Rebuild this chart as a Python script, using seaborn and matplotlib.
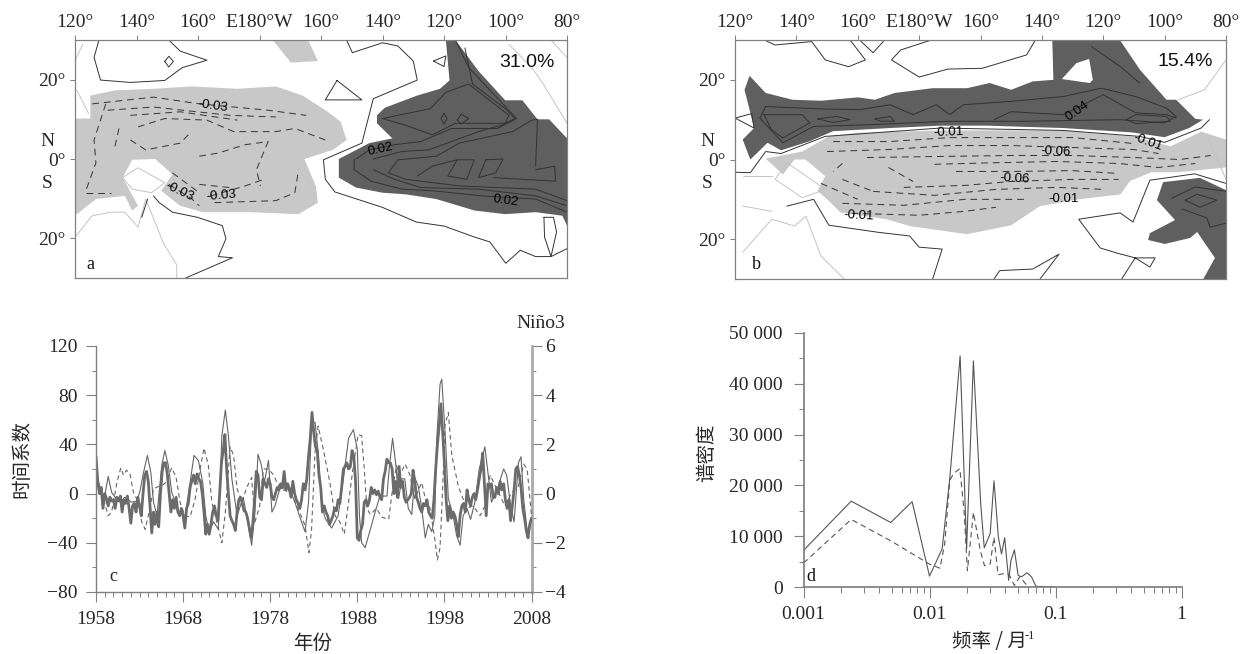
import numpy as np
import matplotlib
matplotlib.use("Agg")
import matplotlib.pyplot as plt
from matplotlib.ticker import FixedLocator, NullFormatter
import seaborn as sns

# ---------- panel a (lon east deg, lat deg) ----------
a_dark = [(240.6,30),(243.7,30),(251.2,22.2),(259.9,14.8),(265.5,14.8),(270.4,10),(274.2,10),(280,5.2),(280,-16.8),(278.5,-14.3),(269.8,-13.4),(259.9,-13.9),(250,-13),(237.5,-10.1),(227.5,-8.9),(220,-8.5),(211.4,-7.2),(205.8,-4.7),(205.8,0),(215.7,4),(223.2,5.2),(218.2,9),(218.2,11),(220.7,12.9),(231.3,16),(238.7,17.7),(241.8,19.8)]
a_light = [(120,10.2),(125,10.2),(125,16),(133,17.3),(145.5,17.7),(158,18.3),(172.8,17.7),(185.3,18.3),(194,16),(202.2,11.9),(206.4,9.4),(208.3,4.8),(203.9,2.3),(194.6,0),(198.3,-6.8),(199,-11),(192.7,-13.9),(176.6,-13.4),(161.6,-13.4),(154.2,-11.8),(148,-8),(151.7,-3.9),(146.1,0),(138.6,-0.2),(135.5,-4.7),(140.5,-11.8),(138.6,-13),(136.2,-9.3),(126.8,-10.1),(120,-14.3)]
a_light2 = [(184.3,30),(195.8,30),(199,24.7),(190.2,24.3)]
a_open = [
    [(127.8,30),(126.2,25.6),(128.3,19.9),(138,19.3),(149.2,19.8),(154.8,23),(162.9,24.9),(154.2,27.2),(150.5,30)],
    [(208.3,30),(210.2,26.8),(220,29.3),(225,28.5),(230,24.7),(231.3,19.9),(217,15.2),(213.3,4),(200.8,-0.2),(201.4,-5.1),(204.5,-8.3),(220,-12.2),(231,-15.9),(240,-16.9),(250,-19.7),(254.9,-20.9),(260.1,-26.3),(264.8,-23),(269.8,-24.6),(274.8,-24.6),(280,-22.6)],
    [(156,-30),(171.2,-24.9),(166.6,-24.6),(169.1,-20.1),(167.9,-16.8),(159.8,-14.7),(151.7,-13.4),(147.4,-11),(145.5,-9.3)],
    [(143.6,-10.1),(141.7,-14.7)],
    [(211.4,0),(215.7,2.3),(223.8,3.6),(232.5,4.4),(242.5,7.7),(257.4,7.7),(263.6,10.2),(256.1,16.4),(248,23.1),(243.7,30)],
    [(246.8,28),(249.3,18.9),(259.9,12.7),(263,10.2),(258.6,8.5),(251.2,6.9),(235,2.3),(226.3,1.9),(217,0)],
    [(220,10.2),(235.6,12.7),(240.6,16.8),(248,18.9),(261.1,11),(259.9,9),(243.7,9),(236.2,6.1),(227.5,8.5),(220,10.2)],
    [(210.8,0),(210.8,-2.7),(216.3,-5.6),(226.3,-7.6),(236.2,-8),(252.4,-9.3),(269.8,-10.1),(280,-13.4)],
    [(217,-2.7),(223.8,-5.1),(232.5,-7.2),(251.2,-7.6),(269.8,-9.3),(280,-11.8)],
    [(225,-0.2),(221.9,-3.5),(227.5,-5.1),(244.9,-6.8),(269.8,-7.6),(280,-10.5)],
    [(225,-0.2),(237.5,0.7),(244.9,4),(262.3,6.9),(268.6,9.8),(270.4,10)],
    [(231.3,-4.3),(236.2,-1.8),(244.3,-0.2)],
    [(256.1,-4.7),(276.3,-5.6),(276,-1.8),(269.8,-2.7)],
    [(270.4,10),(269.8,-1.8)],
]
a_closed = [
    [(149.2,24.6),(150.5,23.2),(152,24.6),(150.5,25.9)],
    [(205.2,19.8),(201.4,14.9),(213.3,14.9)],
    [(236.6,24.7),(240.6,26),(240,23.3)],
    [(272.5,-14.7),(275.6,-14.7),(276.6,-18.4),(274.8,-24.6),(272.7,-19.7)],
    [(244.3,-0.2),(249.9,-0.2),(247.4,-5.1),(241.2,-4.3)],
    [(253.6,-0.2),(259.2,0),(256.8,-3.5),(251.2,-4.7)],
    [(240,11.5),(239,10.2),(240,8.8),(241,10.2)],
    [(245.6,11.3),(244.3,9.8),(245.6,8.8),(248,10.2)],
]
a_dashed = [
    [(125.6,13.9),(145.5,15.6),(160.4,13.9),(182.8,12.3),(195.2,11)],
    [(130.6,12.3),(145.5,13.1),(170.4,11),(185.3,10.6)],
    [(138,11),(154.2,11.9),(172.8,9.8)],
    [(140.5,8.1),(149.2,10.2),(162.9,9.8),(171.6,6.9),(185.3,6.9),(191.5,7.7),(201.4,4.8)],
    [(138,4.8),(143,2.3),(154.2,4),(157.9,6.9)],
    [(160.4,0.7),(166.6,1.5),(175.3,3.6),(182.8,4.4),(179,-2.7),(180.3,-6.8)],
    [(130,13.9),(126.2,4.8),(126.8,-1),(123.7,-7.6)],
    [(134.3,7.7),(133,3.2)],
    [(150.5,-6.4),(157.9,-10),(160.4,-11.8)],
    [(164.1,-9.3),(175.3,-6.8),(181.5,-5.1)],
    [(160.4,-6.4),(170.3,-7.2)],
    [(165.4,-11),(185.3,-10.5),(191.5,-8.5),(192.7,-2.7)],
    [(151.7,-3.5),(160.4,-8.5)],
    [(123.7,-8.5),(131.8,-8.5)],
]
a_coast = [
    [(120,-19.7),(125.6,-14.3),(131.8,-13.4),(136.2,-13.4),(140.5,-17.2),(143,-10.1),(148.8,-21.3),(153.1,-26.7),(153.1,-30)],
    [(135.5,-4.7),(140.5,-2.2),(149.2,-6),(144.9,-8.5),(138.6,-7.6),(135.5,-4.7)],
    [(261.1,28.9),(268.6,23),(272.3,18.9),(280,9)],
    [(274.8,30),(280,25.6)],
    [(120,24.7),(122.5,28.9)],
    [(120.6,17.3),(124.4,11.5)],
]
a_labels = [("-0.03",164.7,13.3,-8),("-0.03",153.9,-8.3,-25),("-0.03",167.6,-9.3,5),("0.02",219.4,2.3,12),("0.02",260,-10.5,-8)]

# ---------- panel b ----------
b_dark = [(124.75,21),(130,16.7),(138.75,15),(148,14.75),(160,15.6),(165.6,15),(172,16.7),(184.4,17.9),(195.6,17.9),(203,19.2),(210,17.5),(217,19.6),(223.75,20),(223.4,30),(245.4,30),(252,22.5),(260.6,15),(263.75,15),(270,10.2),(272.5,10),(268,7.9),(260,5.6),(249.4,6.8),(226.9,7.9),(201.9,8.5),(186.9,8.5),(170.6,7.9),(151.9,7.1),(144.4,4.6),(135,2.3),(130.6,4.2),(125,0),(122.5,5),(126.25,7.9),(123.1,17.5)]
b_hole = [(226.5,20.2),(231.25,24.2),(235.4,25.25),(236.6,20),(235.6,19.2)]
b_dark2 = [(259.5,-5.7),(271.5,-4.6),(280,-7.7),(280,-30),(272.6,-30),(276.4,-24.7),(270.6,-18.2),(268.3,-19.7),(260.1,-21.2),(254.6,-20.2),(255.2,-18.5),(263.4,-15.2),(257.5,-10.2)]
b_light = [(130,0.2),(141.9,2),(150.6,5.8),(159.4,6.7),(186.9,7.3),(226.9,7.3),(249.4,5.8),(262,3.3),(271.9,7),(280,5),(280,-2),(264.4,-3.2),(255.6,-3.2),(248.75,-5.4),(245.6,-8.75),(231.9,-10),(219.4,-11.7),(210,-16.5),(195.6,-18.75),(176.9,-16.7),(169.4,-15),(154.4,-13.3),(150.6,-10.4),(146.9,-7.9),(149.4,-4.2),(143,0),(139.4,0),(135.6,-3.75)]
b_open = [
    [(125,-3.3),(130,2),(135,1.5),(149.4,5.8),(186.9,7.9),(226.9,7.3),(251.9,5.8),(260,4.3),(271.9,7.9),(274.6,10)],
    [(280,-6),(269.8,-3.6),(255.2,-5.2),(249.7,-15.7),(245.5,-13.4),(232,-15),(239,-22.2),(244.5,-23.5),(250.4,-24.7),(256.9,-24.7),(255.2,-27),(250.4,-24.7),(246,-30)],
    [(129.6,30),(133,28.75),(145,29.6),(149.4,25),(157,23.3),(162.5,25),(157.5,30)],
    [(160.6,30),(165,26.8),(168.75,30)],
    [(184,30),(174,27.5),(171,25),(180,20.7),(189.4,22.7),(200.6,22.9),(215,26.25),(217.9,30)],
    [(120,-3.2),(125,-3.3)],
    [(136.9,-11.7),(145.6,-10),(150.6,-16.5),(166.9,-18.3),(176.9,-19.2),(180,-22),(187.5,-22.5),(184.4,-30)],
    [(204.4,-30),(206.25,-27.9),(217,-27.5),(225.6,-23.75),(219.4,-30)],
    [(236.25,28.3),(245.6,23.3),(251.9,19.2)],
    [(204.4,10),(210,12),(226.9,11.25),(240,16.25),(250.6,11.7),(260.6,11.25),(263.75,10.4)],
    [(262.4,-9.7),(269.9,-6.9),(280,-8)],
    [(265.7,-12.4),(273.8,-14.7),(274.8,-17),(280,-16)],
]
b_closed = [
    [(120,10.4),(125.4,11.5),(126.25,7.9)],
    [(130,13.3),(148,12.7),(160.6,12.5),(170.6,13.75),(178,11.25),(185.6,13.75),(190,11.25),(194.4,13.75),(210,14.6),(226.9,15.8),(239.4,17.9),(250.6,15.8),(260.6,12.9),(263.75,10.8),(260,9.2),(245.6,10),(214.4,9.6),(189.4,9.6),(164.4,8.75),(145.6,8.3),(135.6,4.2),(128.1,10.4)],
    [(129.4,11.25),(141.9,11.25),(144.4,9.2),(135.6,5.4),(131.9,7.5)],
    [(146.9,10.2),(153.1,10.8),(157.5,10),(151.9,9.3)],
    [(165.6,10.2),(170.6,10.8),(171.9,9.6),(167.5,9.6)],
    [(247.5,10),(250.6,11.25),(260.6,10.8),(261.9,9.6),(250.6,9)],
    [(266.7,-10.2),(270.6,-8.7),(277,-10.2),(271.5,-12)],
]
b_dashed = [
    [(152,4.5),(170,4.5),(190,5.5),(210,5.5),(230,5.5),(250,4)],
    [(150,2),(170,2.5),(190,3.5),(210,3.5),(230,3),(250,2.5),(258,1.5)],
    [(163,0.5),(190,0.8),(210,1),(230,1),(250,0.5),(265,0),(275,1)],
    [(185,-1.2),(205,-0.8),(225,-0.5),(245,-1),(258,-2),(270,-1)],
    [(192,-3),(210,-3),(230,-2.8),(245,-3.5)],
    [(175,-7),(195,-6.5),(210,-5.5),(230,-5),(245,-5)],
    [(165,-8),(185,-9),(205,-7.5),(225,-7),(240,-7.5)],
    [(155,-11),(175,-11.5),(195,-10),(215,-10)],
    [(158,-13.5),(180,-14),(195,-13),(205,-12)],
    [(155,-1),(152,-3)],
    [(170,-2),(178,-5.5)],
    [(148,-6),(160,-10)],
    [(155,-5),(165,-8)],
]
b_coast = [
    [(122.5,-23.3),(132,-15),(139.4,-16.7),(143.1,-14.2),(148,-24.2),(155.6,-30)],
    [(136.9,-0.8),(149.4,-7.5),(141.9,-9.6),(133.1,-5),(136.9,-0.8)],
    [(122.5,-4.2),(131.9,-4.2)],
    [(122.5,-11.7),(132,-13)],
    [(264.4,15),(273,17.5),(280,25)],
    [(274.4,5),(280,-5)],
]
b_labels = [("-0.01",189.4,6.7,2),("0.04",231.6,12.25,35),("-0.01",254.6,4.2,-20),("-0.06",224.6,2,-3),("-0.06",211,-4.8,-3),("-0.01",227,-9.8,0),("-0.01",160.4,-14.2,-3)]

lon_ticks = [120,140,160,180,200,220,240,260,280]
lon_labels = ["120°","140°","160°","E180°W","160°","140°","120°","100°","80°"]
lat_ticks = [20,0,-20]
lat_labels = ["20°","0°","20°"]

# ---------- panel c ----------
thin_years = [1958.0,1958.2,1958.65,1959.0,1959.4,1959.8,1960.2,1960.8,1961.3,1962.1,1962.7,1963.05,1963.45,1963.9,1964.3,1964.6,1965.0,1965.2,1965.55,1965.9,1966.3,1966.7,1967.5,1968.2,1968.7,1969.25,1969.75,1970.25,1970.6,1971.0,1971.5,1972.05,1972.45,1972.85,1973.2,1973.6,1974.2,1974.9,1975.5,1975.87,1976.25,1976.6,1977.0,1977.3,1977.8,1978.2,1978.55,1979.1,1979.9,1980.7,1981.35,1982.0,1982.4,1982.75,1983.15,1983.5,1983.9,1984.3,1985.05,1985.8,1986.4,1987.0,1987.55,1988.0,1988.25,1988.5,1988.9,1989.5,1990.05,1990.6,1991.4,1991.7,1992.05,1992.4,1992.75,1993.1,1993.45,1993.85,1994.25,1994.6,1995.0,1995.4,1995.8,1996.15,1996.55,1996.9,1997.1,1997.5,1997.7,1998.1,1998.45,1999.0,1999.4,1999.8,2000.15,2000.6,2001.0,2001.5,2002.0,2002.65,2003.0,2003.4,2004.0,2004.8,2005.15,2005.55,2006.0,2006.5,2006.8,2007.1,2007.55,2008.0]
thin_vals = [31,12,0,-2,14,1,-3,-7,-3,-7,-6,2,17,31,17,-7,-18,-3,23,35,23,1,-15,-19,4,31,27,9,-18,-31,-23,-29,47,68,47,12,-18,-3,-26,-42,-15,32,23,8,27,-15,-10,4,5,-4,-18,-31,-7,57,58,34,-7,-20,-28,-18,12,45,52,36,-18,-40,-44,-29,-15,-2,-2,23,45,25,-4,12,12,-12,-17,13,6,-12,-36,-25,-31,-18,42,89,93,47,-4,-18,-34,-42,-18,-12,-21,-7,20,38,17,-7,2,20,15,-7,-23,25,30,-4,-34,-22]
dash_years = [1958.65,1959.4,1959.8,1960.4,1960.85,1961.15,1961.5,1961.9,1962.3,1962.85,1963.25,1963.65,1964.1,1964.6,1965.9,1966.7,1967.2,1967.65,1968.2,1968.8,1969.4,1969.95,1970.4,1970.9,1971.3,1971.8,1972.45,1972.85,1973.4,1973.8,1974.2,1974.75,1975.3,1975.87,1976.25,1976.8,1977.2,1977.8,1978.4,1979.1,1980.3,1981.2,1982.0,1982.45,1982.75,1983.15,1983.5,1984.1,1984.85,1985.45,1986.0,1986.5,1987.0,1987.55,1988.1,1988.5,1988.8,1989.1,1989.5,1990.2,1990.8,1991.6,1992.0,1992.5,1992.9,1993.5,1994.05,1994.6,1995.4,1995.8,1996.35,1996.9,1997.2,1997.5,1997.8,1998.05,1998.45,1998.85,1999.6,2000.55,2001.3,2002.1,2002.65,2003.25,2004.0,2004.95,2005.75,2006.5,2007.1,2007.5,2008.0]
dash_vals = [1,-18,-15,9,21,15,19,16,1,-7,-23,-29,-15,4,8,21,13,-7,-18,-19,-4,20,37,23,-7,-21,-40,-15,38,31,4,-7,5,13,-23,-10,20,20,15,4,1,-12,-26,-48,-29,34,55,36,9,-18,-23,-33,-7,23,48,47,20,-12,-17,-12,-19,-21,1,23,15,24,15,-4,9,-4,-12,-37,-54,-44,4,55,66,31,6,-12,-10,-18,-10,15,4,-10,1,6,24,20,-18]
thick_vals = [30,10,0,5,-12, 0,-4,-10,-3,-6, -5,-12,-3,-6,-2, -15,-5,-8,-2,-12, -24,-10,-8,-15,-3, -10,-18,0,15,18,
              10,-10,-32,-15,-25, -15,-27,0,18,25, 25,15,0,-15,-5, -12,-3,-15,-18,-12, -18,-28,-12,-8,5, 10,15,8,16,12,
              10,0,-15,-33,-25, -33,-25,-15,-10,-18, -22,0,25,35,48, 20,0,-18,-22,-25, -30,-15,-5,-3,-8, -14,-15,-20,-28,-36,
              -25,-5,18,15,-3, -5,12,8,5,12, 8,-3,-5,0,5, 3,8,5,18,3, 8,4,-3,10,0, -5,-8,-12,-5,8,
              3,12,30,45,66, 50,38,35,15,5, -15,-10,-15,-18,-25, -22,-18,-12,-14,-5, -8,5,20,22,25, 20,22,35,30,10,
              -36,-38,-30,-25,-7, -5,-10,-5,5,0, 3,-1,2,-3,-5, 12,18,28,25,25, 20,0,10,-3,22, 5,10,-3,-7,-5,
              -3,0,19,10,-3, -7,-12,-15,-8,-10, -5,-15,-18,-20,-5, 20,40,55,73,50, 25,-5,-22,-10,-20, -15,-18,-25,-35,-18,
              -10,-8,-15,3,-5, -10,-3,0,-5,3, 12,20,33,8,-18, 8,5,8,-3,-3, 5,0,10,3,8, -5,-12,-5,-22,-10,
              3,20,22,15,5, -12,-20,-30,-36,-25, -20]
c_left_labels = ["120","80","40","0","−40","−80"]

# ---------- panel d ----------
d_solid_f = [0.001,0.00239,0.00492,0.00728,0.01,0.0126,0.0145,0.0175,0.0197,0.0223,0.0255,0.0272,0.0303,0.0325,0.0352,0.0373,0.0395,0.0425,0.0443,0.0472,0.0505,0.0537,0.0594,0.0645,0.07,0.096]
d_solid_p = [7200,16900,12700,16800,2150,7500,21500,45500,7500,44500,16300,7700,10500,20900,9800,6500,9700,1300,5200,7300,2300,2000,2800,2000,130,50]
d_dash_f = [0.001,0.00239,0.00492,0.01,0.0121,0.0132,0.0145,0.0155,0.0174,0.0188,0.02,0.0223,0.0253,0.0273,0.0303,0.0325,0.035,0.038,0.0427,0.0472,0.052,0.0594]
d_dash_p = [4700,13300,9100,4500,3700,8500,21000,22300,23300,15000,3200,14700,7200,4200,4500,9800,2400,2600,2500,300,2000,300]
d_y_labels = ["0","10 000","20 000","30 000","40 000","50 000"]

# ---------- styling ----------
W, H = 1243, 654
sns.set_theme(style="ticks")
SERIF = ["Liberation Serif", "DejaVu Serif"]
CJK = ["Noto Sans CJK SC", "DejaVu Sans"]
plt.rcParams["font.family"] = SERIF
plt.rcParams["font.size"] = 14
GRAY = "#808080"
DARK_FILL = "#5f5f5f"
LIGHT_FILL = "#c8c8c8"
COAST = "#c4c4c4"
LINE = "#333333"
SANS = ["Liberation Sans", "DejaVu Sans"]

fig = plt.figure(figsize=(W/100, H/100), dpi=100, facecolor="white")

def add_ax(l, t, r, b):
    return fig.add_axes([l/W, 1-b/H, (r-l)/W, (b-t)/H])

def draw(ax, pts, **kw):
    arr = np.array(pts, dtype=float)
    sns.lineplot(x=arr[:,0], y=arr[:,1], ax=ax, sort=False, estimator=None, legend=False, **kw)

def draw_map(ax, fills, opens, closed, dashed, coast, labels, pct, pct_xy, letter, letter_xy):
    ax.set_xlim(120, 280); ax.set_ylim(-30, 30)
    for pts in coast:
        draw(ax, pts, color=COAST, lw=0.7)
    for pts, col in fills:
        arr = np.array(pts)
        ax.fill(arr[:,0], arr[:,1], color=col, lw=0)
    for pts in opens:
        draw(ax, pts, color=LINE, lw=0.7)
    for pts in closed:
        draw(ax, pts + [pts[0]], color=LINE, lw=0.7)
    for pts in dashed:
        draw(ax, pts, color=LINE, lw=0.7, dashes=(7, 5))
    for s, x, y, rot in labels:
        ax.text(x, y, s, rotation=rot, ha="center", va="center", fontsize=9.5,
                family=SANS, color="black", rotation_mode="anchor")
    ax.text(*pct_xy, pct, fontsize=14, family=SANS, ha="center", va="center", color="#111111")
    ax.text(*letter_xy, letter, fontsize=13, ha="center", va="center", color="#111111")
    ax.xaxis.tick_top()
    ax.set_xticks(lon_ticks); ax.set_xticklabels(lon_labels)
    ax.set_yticks(lat_ticks); ax.set_yticklabels(lat_labels)
    ax.tick_params(axis="both", which="major", length=3.5, width=0.7, color=GRAY, labelsize=14, pad=3, direction="out")
    for s in ax.spines.values():
        s.set_visible(True); s.set_color(GRAY); s.set_linewidth(0.9)

# Panel a
ax_a = add_ax(75, 40, 567, 278)
draw_map(ax_a, [(a_light, LIGHT_FILL), (a_light2, LIGHT_FILL), (a_dark, DARK_FILL)], a_open, a_closed, a_dashed, a_coast,
         a_labels, "31.0%", (267, 24.4), "a", (125, -26.5))
# Panel b
ax_b = add_ax(735, 40, 1226, 279)
draw_map(ax_b, [(b_light, LIGHT_FILL), (b_dark, DARK_FILL), (b_hole, "white"), (b_dark2, DARK_FILL)], b_open, b_closed, b_dashed, b_coast,
         b_labels, "15.4%", (266.6, 24.6), "b", (127, -26.3))
for l in [47, 707]:
    fig.text(l/W, 1-141/H, "N", ha="center", va="center", fontsize=14)
    fig.text(l/W, 1-183/H, "S", ha="center", va="center", fontsize=14)

# Panel c
ax_c = add_ax(96, 346, 531.5, 592)
thick_years = 1958 + 0.2*np.arange(len(thick_vals))
ax_r = ax_c.twinx()
ax_c.set_xlim(1958, 2008); ax_c.set_ylim(-80, 120)
ax_r.set_ylim(-4, 6)
sns.lineplot(x=thin_years, y=np.array(thin_vals)/20, ax=ax_r, color="#666666", lw=0.8, sort=False, estimator=None, legend=False)
sns.lineplot(x=dash_years, y=dash_vals, ax=ax_c, color="#666666", lw=0.8, dashes=(4, 3), sort=False, estimator=None, legend=False)
sns.lineplot(x=thick_years, y=thick_vals, ax=ax_c, color="#6b6b6b", lw=2.0, sort=False, estimator=None, legend=False)
ax_c.set_zorder(ax_r.get_zorder()+1); ax_c.patch.set_visible(False)
ax_c.set_xticks(np.arange(1958, 2009, 10))
ax_c.set_xticks(np.arange(1958, 2009, 1), minor=True)
ax_c.set_yticks(np.arange(-80, 121, 40)); ax_c.set_yticklabels(c_left_labels[::-1])
ax_c.set_yticks(np.arange(-80, 121, 20), minor=True)
ax_r.set_yticks(np.arange(-4, 7, 2)); ax_r.set_yticklabels(["−4","−2","0","2","4","6"])
ax_r.set_yticks(np.arange(-4, 7, 1), minor=True)
ax_r.grid(False); ax_c.grid(False)
ax_c.tick_params(axis="x", which="major", length=7, width=0.8, color=GRAY, labelsize=14, pad=7)
ax_c.tick_params(axis="x", which="minor", length=3.5, width=0.7, color=GRAY)
ax_c.tick_params(axis="y", which="major", length=7, width=0.8, color=GRAY, labelsize=14, pad=6)
ax_c.tick_params(axis="y", which="minor", length=3, width=0.7, color=GRAY)
ax_r.tick_params(axis="y", which="major", length=7, width=0.8, color=GRAY, labelsize=14, pad=3)
ax_r.tick_params(axis="y", which="minor", length=3, width=0.7, color=GRAY)
for axx in (ax_c, ax_r):
    axx.spines["top"].set_visible(False)
ax_c.spines["right"].set_visible(False)
ax_c.spines["left"].set_color(GRAY); ax_c.spines["left"].set_linewidth(1.0)
ax_c.spines["bottom"].set_color(GRAY); ax_c.spines["bottom"].set_linewidth(1.0)
ax_r.spines["left"].set_visible(False); ax_r.spines["bottom"].set_visible(False)
ax_r.spines["right"].set_visible(True); ax_r.spines["right"].set_color("#aaaaaa"); ax_r.spines["right"].set_linewidth(2)
ax_c.text(1960, -67, "c", fontsize=13, ha="center", va="center")
fig.text(541/W, 1-323/H, "Niño3", ha="center", va="center", fontsize=14)
fig.text(22/W, 1-459/H, "时间系数", rotation=90, ha="center", va="center", fontsize=14, family=CJK)
fig.text(313/W, 1-643/H, "年份", ha="center", va="center", fontsize=14, family=CJK)

# Panel d
ax_d = add_ax(803.5, 333, 1181.5, 587)
ax_d.set_xscale("log")
sns.lineplot(x=d_solid_f, y=d_solid_p, ax=ax_d, color="#555555", lw=0.8, sort=False, estimator=None, legend=False)
sns.lineplot(x=d_dash_f, y=d_dash_p, ax=ax_d, color="#555555", lw=0.8, dashes=(5, 3.5), sort=False, estimator=None, legend=False)
ax_d.set_xlim(0.001, 1); ax_d.set_ylim(0, 50000)
ax_d.set_xticks([0.001, 0.01, 0.1, 1]); ax_d.set_xticklabels(["0.001","0.01","0.1","1"])
minor_f = [m*10.0**e for e in (-3,-2,-1) for m in range(2,10)]
ax_d.xaxis.set_minor_locator(FixedLocator(minor_f)); ax_d.xaxis.set_minor_formatter(NullFormatter())
ax_d.set_yticks(np.arange(0, 50001, 10000)); ax_d.set_yticklabels(d_y_labels)
ax_d.set_yticks(np.arange(0, 50001, 5000), minor=True)
ax_d.grid(False)
ax_d.tick_params(axis="x", which="major", length=8, width=0.8, color=GRAY, labelsize=14, pad=6)
ax_d.tick_params(axis="x", which="minor", length=4, width=0.7, color=GRAY)
ax_d.tick_params(axis="y", which="major", length=7, width=0.8, color=GRAY, labelsize=14, pad=8)
ax_d.tick_params(axis="y", which="minor", length=3.5, width=0.7, color=GRAY)
ax_d.spines["top"].set_visible(False); ax_d.spines["right"].set_visible(False)
ax_d.spines["left"].set_color(GRAY); ax_d.spines["bottom"].set_color(GRAY)
ax_d.text(0.00115, 2100, "d", fontsize=13, ha="center", va="center", color="#111111")
fig.text(707/W, 1-453/H, "谱密度", rotation=90, ha="center", va="center", fontsize=14, family=CJK)
fig.text(989/W, 1-642/H, "频率 / 月", ha="center", va="center", fontsize=14, family=CJK)
fig.text(1030/W, 1-636/H, "-1", ha="center", va="center", fontsize=9)

fig.savefig("out.png", dpi=100, facecolor="white")
